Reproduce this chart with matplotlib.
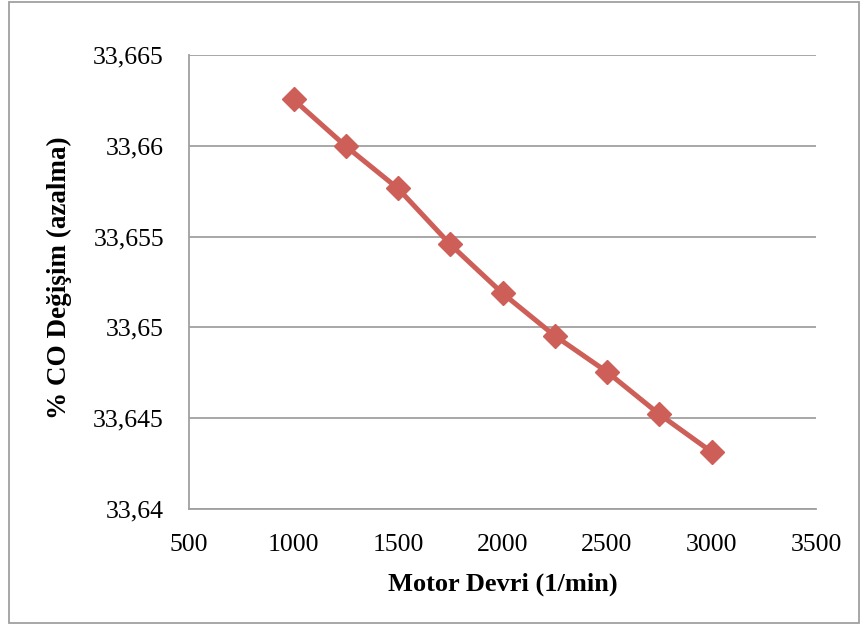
import matplotlib.pyplot as plt
from matplotlib.patches import Rectangle
from matplotlib.ticker import FuncFormatter

# Motor speed (1/min) and % CO change
devir = [1000, 1250, 1500, 1750, 2000, 2250, 2500, 2750, 3000]
co_degisim = [33.66255, 33.65998, 33.65765, 33.65457, 33.65188, 33.64954,
              33.64755, 33.64522, 33.64315]

xticks = [500, 1000, 1500, 2000, 2500, 3000, 3500]
yticks = [33.64, 33.645, 33.65, 33.655, 33.66, 33.665]

plt.rcParams['font.family'] = ['Liberation Serif', 'DejaVu Serif']

fig = plt.figure(figsize=(8.67, 6.31), dpi=100)
ax = fig.add_axes([189 / 867, 1 - 509 / 631, 627 / 867, 454 / 631])

# chart area border
fig.patches.append(Rectangle((9 / 867, 1 - 623 / 631), 850 / 867, 621 / 631,
                             transform=fig.transFigure, fill=False,
                             edgecolor='#A0A0A0', lw=1.3))

ax.plot(devir, co_degisim, color='#CD5F58', lw=3.6, marker='D',
        markersize=12, markeredgecolor='#CD5F58', zorder=3)

ax.set_xlim(500, 3500)
ax.set_ylim(33.64, 33.665)
ax.set_xticks(xticks)
ax.set_yticks(yticks)


def virgul(v, pos):
    s = ('%.3f' % v).rstrip('0').rstrip('.')
    return s.replace('.', ',')


ax.yaxis.set_major_formatter(FuncFormatter(virgul))
ax.tick_params(length=0, labelsize=18.5)
ax.tick_params(axis='y', pad=18)
ax.tick_params(axis='x', pad=18)
ax.grid(axis='y', color='#A0A0A0', lw=1.3)
ax.set_axisbelow(True)
for s in ['top', 'right']:
    ax.spines[s].set_visible(False)
for s in ['left', 'bottom']:
    ax.spines[s].set_color('#A0A0A0')
    ax.spines[s].set_linewidth(1.3)

ax.set_xlabel('Motor Devri (1/min)', fontsize=19, fontweight='bold')
ax.set_ylabel('% CO Değişim (azalma)', fontsize=19.5, fontweight='bold')
ax.xaxis.set_label_coords(0.5, -0.141)
ax.yaxis.set_label_coords(-0.1866, 0.51)

fig.savefig('out.png', dpi=100)
